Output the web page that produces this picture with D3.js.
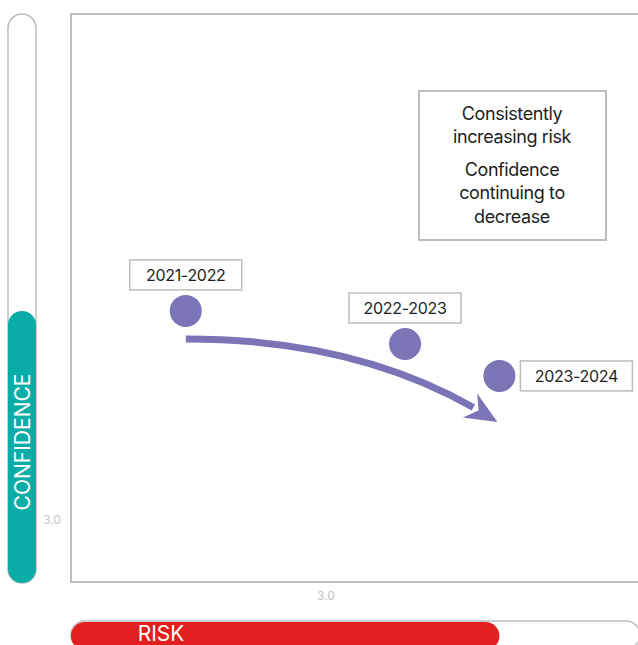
<!DOCTYPE html>
<html>
<head>
<meta charset="utf-8">
<script src="https://cdn.jsdelivr.net/npm/d3@7"></script>
<style>
  html, body { margin: 0; padding: 0; background: #fff; }
  svg { display: block; font-family: Inter, "Noto Sans", sans-serif; }
</style>
</head>
<body>
<svg id="chart" width="638" height="645"></svg>
<script>
// Yearly risk / confidence readings
const periods = ["2021-2022", "2022-2023", "2023-2024"];
const riskScores = [2.45, 3.31, 3.68];
const confidenceScores = [3.82, 3.69, 3.565];

// Gauge levels shown in the side and bottom bars
const riskLevel = 3.68;
const confidenceLevel = 3.82;

// Axis reference ticks
const xTicks = [3.0];
const yTicks = [3.0];

// Annotation
const noteLines = [["Consistently", "increasing risk"], ["Confidence", "continuing to", "decrease"]];

const svg = d3.select("#chart");
const purple = "#7b74b6";
const grey = "#bdbdbd";

// plot frame
const frame = { left: 71, top: 14, right: 660, bottom: 582 };

const x = d3.scaleLinear().domain([2, 4]).range([71, 581]);
const y = d3.scaleLinear().domain([3, 4]).range([520, 265]);

svg.append("rect")
  .attr("x", frame.left).attr("y", frame.top)
  .attr("width", frame.right - frame.left).attr("height", frame.bottom - frame.top)
  .attr("fill", "none").attr("stroke", grey).attr("stroke-width", 2);

// tick labels
svg.selectAll(".xt").data(xTicks).join("text")
  .attr("x", d => x(d)).attr("y", 600)
  .attr("text-anchor", "middle").attr("font-size", 12).attr("fill", "#c4c4c4")
  .text(d => d.toFixed(1));
svg.selectAll(".yt").data(yTicks).join("text")
  .attr("x", 52).attr("y", d => y(d) + 4)
  .attr("text-anchor", "middle").attr("font-size", 12).attr("fill", "#c4c4c4")
  .text(d => d.toFixed(1));

// confidence gauge (vertical)
const cBar = { x: 8, y: 14, w: 28, h: 569 };
svg.append("rect")
  .attr("x", cBar.x).attr("y", cBar.y).attr("width", cBar.w).attr("height", cBar.h)
  .attr("rx", 14).attr("fill", "#fff").attr("stroke", grey).attr("stroke-width", 1.5);
const cTop = y(confidenceLevel);
svg.append("rect")
  .attr("x", cBar.x).attr("y", cTop).attr("width", cBar.w).attr("height", cBar.y + cBar.h - cTop)
  .attr("rx", 14).attr("fill", "#0aaca8");
svg.append("text")
  .attr("transform", `translate(${cBar.x + cBar.w / 2 + 7.5},442) rotate(-90)`)
  .attr("text-anchor", "middle").attr("font-size", 21).attr("fill", "#fff")
  .text("CONFIDENCE");

// risk gauge (horizontal)
const rBar = { x: 71, y: 621, w: 569, h: 28 };
svg.append("rect")
  .attr("x", rBar.x).attr("y", rBar.y).attr("width", rBar.w).attr("height", rBar.h)
  .attr("rx", 14).attr("fill", "#fff").attr("stroke", grey).attr("stroke-width", 1.5);
svg.append("rect")
  .attr("x", rBar.x).attr("y", rBar.y + 1).attr("width", x(riskLevel) - rBar.x).attr("height", rBar.h)
  .attr("rx", 14).attr("fill", "#e11f1f");
svg.append("text")
  .attr("x", 161).attr("y", 641)
  .attr("text-anchor", "middle").attr("font-size", 21).attr("fill", "#fff")
  .text("RISK");

// trend arrow from first to last reading
const p0 = [x(riskScores[0]), y(confidenceScores[0]) + 28];
const p1 = [x(riskScores[2]) - 2, y(confidenceScores[2]) + 46];
const ctrl = [p1[0] - 138, p0[1]];
const ang = Math.atan2(p1[1] - ctrl[1], p1[0] - ctrl[0]);
const headLen = 32, headW = 14;
const base = [p1[0] - headLen * Math.cos(ang), p1[1] - headLen * Math.sin(ang)];
const lineEnd = [p1[0] - (headLen - 4) * Math.cos(ang), p1[1] - (headLen - 4) * Math.sin(ang)];
const path = d3.path();
path.moveTo(p0[0], p0[1]);
path.quadraticCurveTo(ctrl[0] - 6, ctrl[1], lineEnd[0], lineEnd[1]);
svg.append("path").attr("d", path.toString())
  .attr("fill", "none").attr("stroke", purple).attr("stroke-width", 7);
const nx = -Math.sin(ang), ny = Math.cos(ang);
const notch = [p1[0] - (headLen - 10) * Math.cos(ang), p1[1] - (headLen - 10) * Math.sin(ang)];
svg.append("path")
  .attr("d", `M${p1[0]},${p1[1]} L${base[0] + nx * headW},${base[1] + ny * headW} L${notch[0]},${notch[1]} L${base[0] - nx * headW},${base[1] - ny * headW} Z`)
  .attr("fill", purple);

// readings
svg.selectAll(".pt").data(periods).join("circle")
  .attr("cx", (d, i) => x(riskScores[i]))
  .attr("cy", (d, i) => y(confidenceScores[i]))
  .attr("r", 16).attr("fill", purple);

// period labels: above the first two, right of the last
const labelOffsets = [[0, -36], [0, -36], [77, 0]];
const lw = 112, lh = 30;
const lg = svg.selectAll(".lab").data(periods).join("g")
  .attr("transform", (d, i) => `translate(${x(riskScores[i]) + labelOffsets[i][0]},${y(confidenceScores[i]) + labelOffsets[i][1]})`);
lg.append("rect")
  .attr("x", -lw / 2).attr("y", -lh / 2).attr("width", lw).attr("height", lh)
  .attr("fill", "#fff").attr("stroke", grey).attr("stroke-width", 1.5);
lg.append("text")
  .attr("text-anchor", "middle").attr("dy", "0.35em")
  .attr("font-size", 16).attr("fill", "#1e1e1e").attr("letter-spacing", -0.3)
  .text(d => d);

// annotation box
const note = svg.append("g");
note.append("rect")
  .attr("x", 419).attr("y", 91).attr("width", 187).attr("height", 149)
  .attr("fill", "#fff").attr("stroke", grey).attr("stroke-width", 2);
const lineYs = [[120, 143], [176, 199, 223]];
noteLines.forEach((grp, gi) => {
  grp.forEach((t, li) => {
    note.append("text")
      .attr("x", 512).attr("y", lineYs[gi][li])
      .attr("text-anchor", "middle").attr("font-size", 18).attr("fill", "#1e1e1e")
      .attr("letter-spacing", -0.4)
      .text(t);
  });
});
</script>
</body>
</html>
